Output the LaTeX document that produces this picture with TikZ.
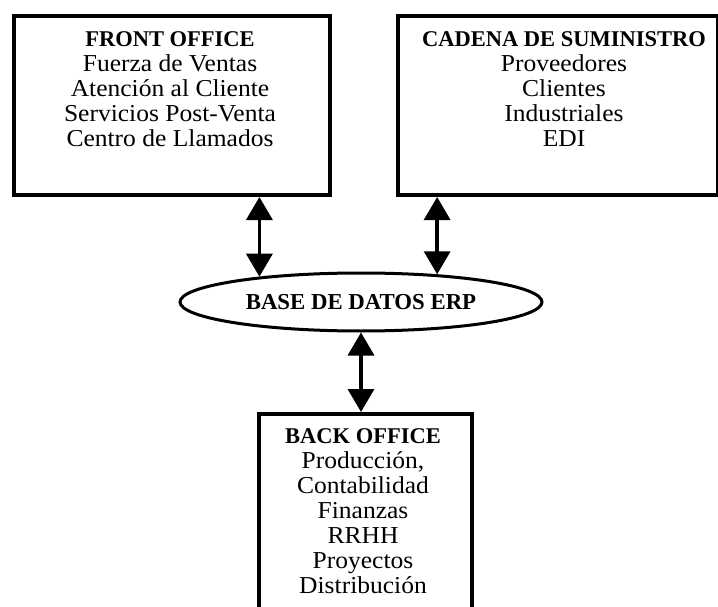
\documentclass[tikz,border=0pt]{standalone}
\usepackage{fontspec}
\setmainfont{Liberation Serif}
\newfontfamily\bodyfont{Liberation Serif}[FakeStretch=1.05]
\usetikzlibrary{shapes.geometric,arrows.meta,calc}

\newcommand{\hdline}[1]{{\rmfamily\bfseries\fontsize{22.5}{25}\selectfont #1}}

\tikzset{
  box/.style={draw, line width=4pt, rectangle, inner sep=0pt},
  body/.style={align=center, inner sep=0pt, anchor=north,
    font=\bodyfont\fontsize{24.3}{25}\selectfont},
  db/.style={draw, ellipse, line width=3pt, minimum width=362pt,
    minimum height=58pt, inner sep=0pt, font=\bfseries\fontsize{22.8}{25}\selectfont},
  link/.style={line width=3.5pt,
    {Triangle[width=26pt,length=23pt]}-{Triangle[width=26pt,length=23pt]}}
}

\begin{document}
\begin{tikzpicture}[x=1pt,y=-1pt]
  \useasboundingbox (0,0) rectangle (718,607);

  % three boxes around the database
  \node[box, minimum width=316pt, minimum height=179pt, anchor=north west] (fo) at (12,14) {};
  \node[box, minimum width=320pt, minimum height=179pt, anchor=north west] (sc) at (396,14) {};
  \node[box, minimum width=213pt, minimum height=240pt, anchor=north west] (bo) at (257,412) {};

  % their texts
  \node[body] (fotext) at (170,31) {\hdline{FRONT OFFICE}\\Fuerza de Ventas\\Atención al Cliente\\Servicios Post-Venta\\Centro de Llamados};
  \node[body] (sctext) at (564,31) {\hdline{CADENA DE SUMINISTRO}\\Proveedores\\Clientes\\Industriales\\EDI};
  \node[body] (botext) at (363,428) {\hdline{BACK OFFICE}\\Producción,\\Contabilidad\\Finanzas\\RRHH\\Proyectos\\Distribución};

  % central database
  \node[db] (erp) at (361,302) {BASE DE DATOS ERP};

  % two-way links
  \draw[link] (fo.south -| erp.166) -- (erp.166);
  \draw[link] (sc.south -| erp.20) -- (erp.20);
  \draw[link] (erp.south) -- (erp.south |- bo.north);
\end{tikzpicture}
\end{document}
